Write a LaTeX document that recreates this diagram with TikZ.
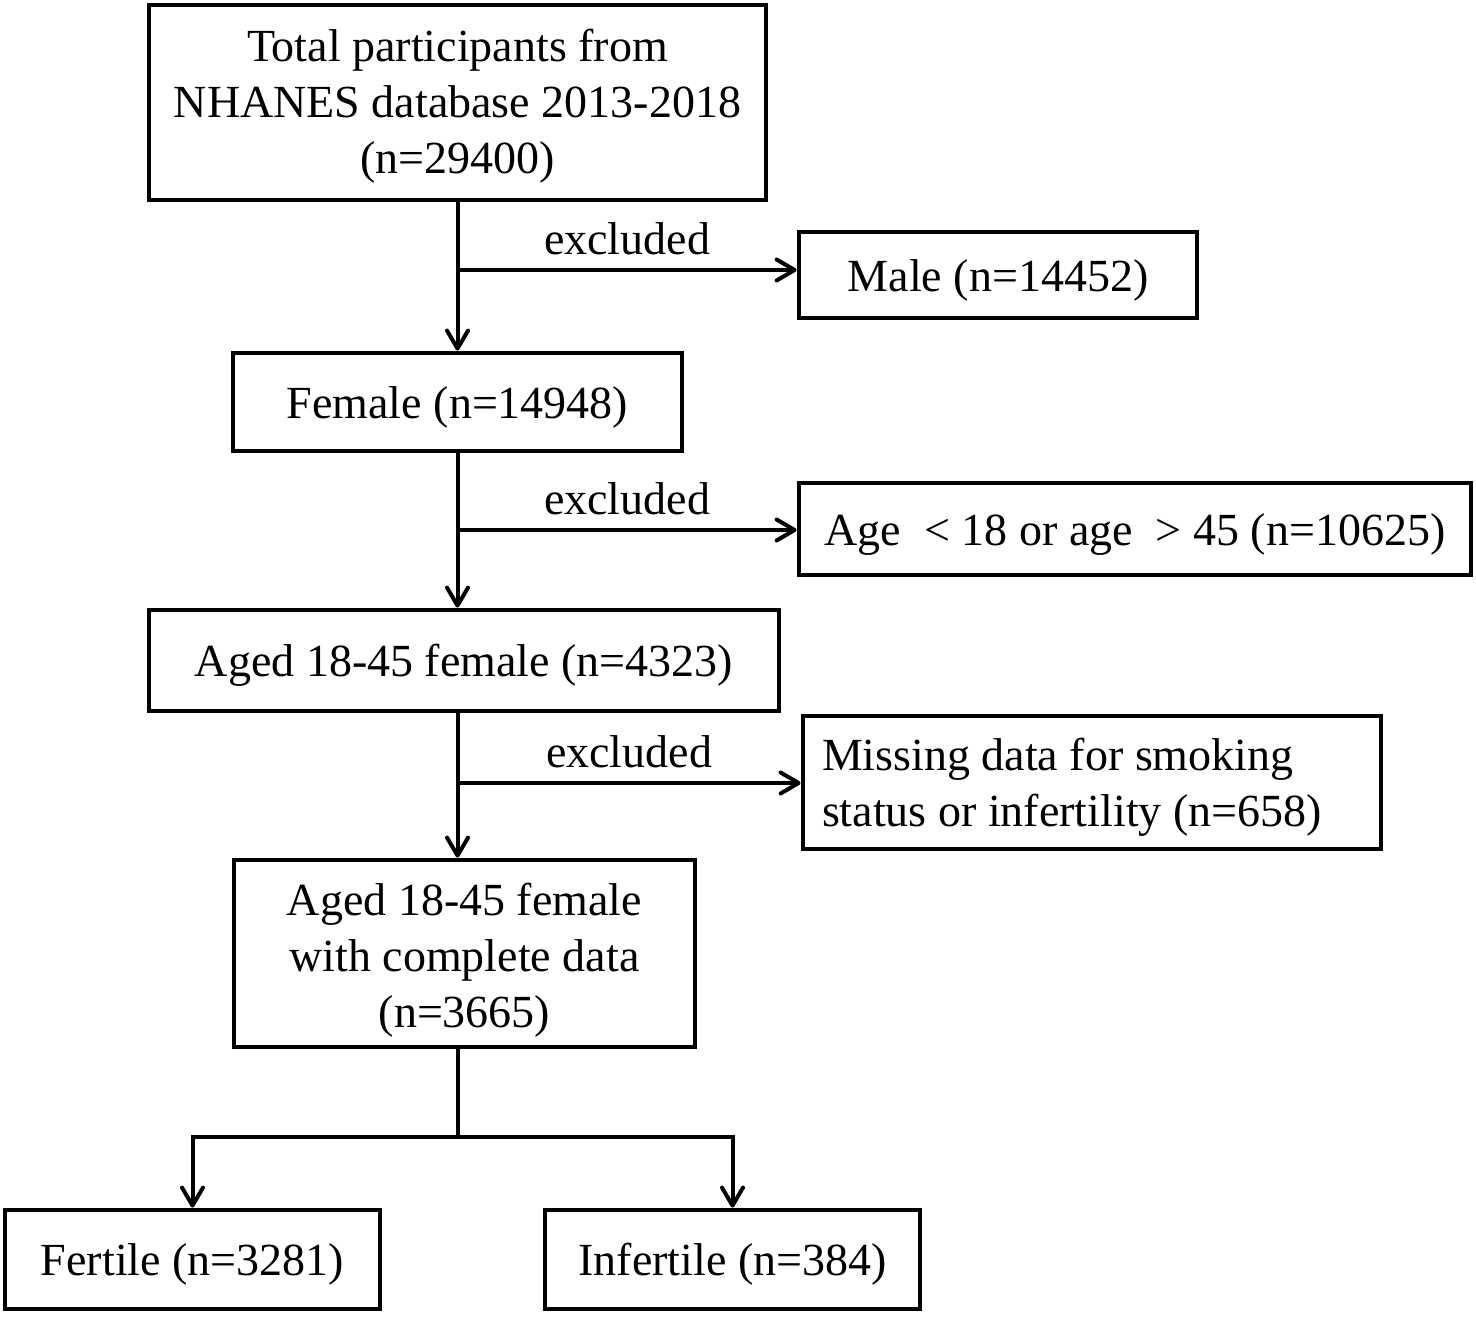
\documentclass[tikz,border=0pt]{standalone}
\usepackage{fontspec}
\setmainfont{Liberation Serif}
\usetikzlibrary{arrows.meta}
\tikzset{every picture/.style={line width=2pt},
  box/.style={draw, line width=2.4pt, inner sep=0pt, align=center, font=\fontsize{23}{28}\selectfont,
    execute at begin node={\rule{0pt}{21pt}}},
  arr/.style={-{Straight Barb[length=9pt,width=10.5pt,round]}},
  lbl/.style={above=2.5pt, inner sep=4pt, font=\fontsize{23}{28}\selectfont}}
\begin{document}
\begin{tikzpicture}[x=0.5pt,y=0.5pt,yscale=-1,xscale=1]
\useasboundingbox (0,0) rectangle (1476,1316);

%Rect
\node[box, minimum width=308.5pt, minimum height=97.5pt] (total) at (457.5,102.5) {\rule{0pt}{20pt}Total participants from\\NHANES database 2013-2018\\(n=29400)};
%Rect
\node[box, minimum width=199pt, minimum height=43pt] (male) at (998,275) {Male (n=14452)};
%Rect
\node[box, minimum width=224.5pt, minimum height=49pt] (female) at (457.5,402) {Female (n=14948)};
%Rect
\node[box, minimum width=336pt, minimum height=46pt] (age) at (1135,529) {Age~ < 18 or age~ > 45 (n=10625)};
%Rect
\node[box, minimum width=315pt, minimum height=50.5pt] (aged) at (464,660.5) {Aged 18-45 female (n=4323)};
%Rect
\node[box, minimum width=289pt, minimum height=66.5pt, text width=270pt, align=flush left] (missing) at (1092,782.5) {Missing data for smoking\\status or infertility (n=658)};
%Rect
\node[box, minimum width=230.5pt, minimum height=93.5pt] (complete) at (464.5,953.5) {\rule{0pt}{22.5pt}Aged 18-45 female\\with complete data\\(n=3665)};
%Rect
\node[box, minimum width=187.5pt, minimum height=49.5pt] (fertile) at (192.5,1259.5) {Fertile (n=3281)};
%Rect
\node[box, minimum width=187.5pt, minimum height=49.5pt] (infertile) at (732.5,1259.5) {Infertile (n=384)};

%Straight Lines
\draw[arr] (total.south -| female) -- (female.north);
\coordinate (ex1) at (457.5,270);
\draw[arr] (ex1) -- node[lbl] {excluded} (ex1 -| male.west);
%Straight Lines
\draw[arr] (female.south) -- (female.south |- aged.north);
\coordinate (ex2) at (457.5,530);
\draw[arr] (ex2) -- node[lbl] {excluded} (ex2 -| age.west);
%Straight Lines
\draw[arr] (aged.south -| female) -- (female |- complete.north);
\coordinate (ex3) at (457.5,783);
\draw[arr] (ex3) -- node[lbl] {excluded} (ex3 -| missing.west);
%Straight Lines
\coordinate (split) at (457.5,1137);
\draw (complete.south -| split) -- (split);
\draw[arr] (split) -| (fertile.north);
\draw[arr] (split) -| (infertile.north);

\end{tikzpicture}
\end{document}
